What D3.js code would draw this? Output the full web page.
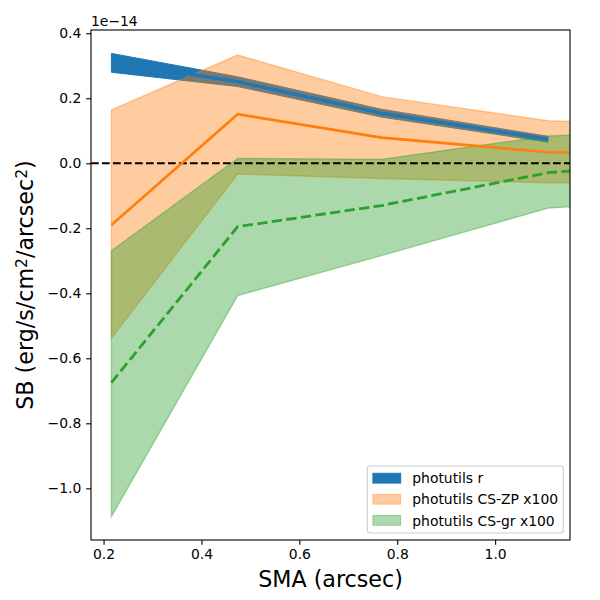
<!DOCTYPE html>
<html>
<head>
<meta charset="utf-8">
<script src="https://cdn.jsdelivr.net/npm/d3@7"></script>
<style>
  body { margin: 0; background: #fff; }
  text { font-family: "DejaVu Sans", sans-serif; }
</style>
</head>
<body>
<script>
// data (units of 1e-14)
const smaR = [0.216, 0.474, 0.768, 1.108];
const rMid = [0.312, 0.251, 0.154, 0.074];
const rLo = [0.280, 0.236, 0.142, 0.065];
const rHi = [0.338, 0.266, 0.166, 0.083];

const smaCS = [0.216, 0.474, 0.768, 1.108, 1.16];
const zpMid = [-0.190, 0.151, 0.079, 0.034, 0.033];
const zpLo = [-0.538, -0.033, -0.047, -0.060, -0.060];
const zpHi = [0.164, 0.333, 0.205, 0.131, 0.128];

const grMid = [-0.675, -0.195, -0.130, -0.029, -0.023];
const grLo = [-1.087, -0.407, -0.284, -0.138, -0.133];
const grHi = [-0.269, 0.015, 0.012, 0.084, 0.087];

const xTicks = [0.2, 0.4, 0.6, 0.8, 1.0];
const yTicks = [0.4, 0.2, 0.0, -0.2, -0.4, -0.6, -0.8, -1.0];
const legendLabels = ['photutils r', 'photutils CS-ZP x100', 'photutils CS-gr x100'];

const width = 600, height = 600;
const margin = { top: 30, right: 30, bottom: 60, left: 91 };

// scales
const x = d3.scaleLinear().domain([0.1743, 1.153]).range([margin.left, width - margin.right]);
const y = d3.scaleLinear().domain([-1.159, 0.410]).range([height - margin.bottom, margin.top]);

const svg = d3.select('body').append('svg')
  .attr('width', width).attr('height', height);

svg.append('defs').append('clipPath').attr('id', 'plotclip')
  .append('rect')
  .attr('x', x.range()[0]).attr('y', y.range()[1])
  .attr('width', x.range()[1] - x.range()[0])
  .attr('height', y.range()[0] - y.range()[1]);

const plot = svg.append('g').attr('clip-path', 'url(#plotclip)');

const toRows = (xs, lo, hi, mid) => xs.map((v, i) => ({ x: v, lo: lo[i], hi: hi[i], mid: mid[i] }));
const rRows = toRows(smaR, rLo, rHi, rMid);
const zpRows = toRows(smaCS, zpLo, zpHi, zpMid);
const grRows = toRows(smaCS, grLo, grHi, grMid);

const band = d3.area().x(d => x(d.x)).y0(d => y(d.lo)).y1(d => y(d.hi));
const line = d3.line().x(d => x(d.x)).y(d => y(d.mid));

// bands
plot.append('path').datum(rRows).attr('d', band)
  .attr('fill', '#1f77b4').attr('stroke', '#1f77b4').attr('stroke-width', 1);
plot.append('path').datum(zpRows).attr('d', band)
  .attr('fill', '#ff7f0e').attr('fill-opacity', 0.4)
  .attr('stroke', '#ff7f0e').attr('stroke-opacity', 0.4).attr('stroke-width', 1.4);
plot.append('path').datum(grRows).attr('d', band)
  .attr('fill', '#2ca02c').attr('fill-opacity', 0.4)
  .attr('stroke', '#2ca02c').attr('stroke-opacity', 0.4).attr('stroke-width', 1.4);

// zero line
plot.append('line')
  .attr('x1', x.range()[0]).attr('x2', x.range()[1])
  .attr('y1', y(0)).attr('y2', y(0))
  .attr('stroke', '#000').attr('stroke-width', 2.1).attr('stroke-dasharray', '7.7,3.3');

// lines
plot.append('path').datum(zpRows).attr('d', line)
  .attr('fill', 'none').attr('stroke', '#ff7f0e').attr('stroke-width', 2.6);
plot.append('path').datum(grRows).attr('d', line)
  .attr('fill', 'none').attr('stroke', '#2ca02c').attr('stroke-width', 2.8)
  .attr('stroke-dasharray', '10.3,4.4');
plot.append('path').datum(rRows).attr('d', line)
  .attr('fill', 'none').attr('stroke', '#1f77b4').attr('stroke-width', 3.5);

// axes
const xAxis = g => g.attr('transform', `translate(0, ${y.range()[0]})`)
  .call(d3.axisBottom(x).tickValues(xTicks).tickFormat(d3.format('.1f'))
    .tickSize(4.86).tickPadding(4.4).tickSizeOuter(0))
  .call(g => g.select('.domain').remove());
const yAxis = g => g.attr('transform', `translate(${x.range()[0]}, 0)`)
  .call(d3.axisLeft(y).tickValues(yTicks).tickFormat(d3.format('.1f'))
    .tickSize(4.86).tickPadding(4.86).tickSizeOuter(0))
  .call(g => g.select('.domain').remove());

svg.append('g').call(xAxis);
svg.append('g').call(yAxis);
svg.selectAll('.tick text')
  .attr('font-family', '"DejaVu Sans", sans-serif')
  .attr('font-size', '13.9px').attr('fill', '#000');
svg.selectAll('.tick line').attr('stroke', '#000').attr('stroke-width', 1.1);

// frame
svg.append('rect')
  .attr('x', x.range()[0]).attr('y', y.range()[1])
  .attr('width', x.range()[1] - x.range()[0])
  .attr('height', y.range()[0] - y.range()[1])
  .attr('fill', 'none').attr('stroke', '#000').attr('stroke-width', 1.1);

// offset text
svg.append('text').attr('x', 91).attr('y', 25.7)
  .attr('font-size', '13.9px').text('1e\u221214');

// axis labels
svg.append('text')
  .attr('x', (x.range()[0] + x.range()[1]) / 2).attr('y', 587)
  .attr('text-anchor', 'middle').attr('font-size', '22.2px')
  .text('SMA (arcsec)');

const yl = svg.append('text')
  .attr('transform', `translate(33, ${(y.range()[0] + y.range()[1]) / 2}) rotate(-90)`)
  .attr('text-anchor', 'middle').attr('font-size', '22.2px');
yl.append('tspan').text('SB (erg/s/cm');
yl.append('tspan').attr('baseline-shift', '40%').attr('font-size', '15.5px').text('2');
yl.append('tspan').text('/arcsec');
yl.append('tspan').attr('baseline-shift', '40%').attr('font-size', '15.5px').text('2');
yl.append('tspan').text(')');

// legend
const legend = svg.append('g').attr('transform', 'translate(367.3, 466)');
legend.append('rect')
  .attr('width', 196).attr('height', 67).attr('rx', 3)
  .attr('fill', '#fff').attr('fill-opacity', 0.8)
  .attr('stroke', '#cccccc').attr('stroke-width', 1.1);

const swatches = [
  { fill: '#1f77b4', op: 1 },
  { fill: '#ff7f0e', op: 0.4 },
  { fill: '#2ca02c', op: 0.4 }
];
legendLabels.forEach((lab, i) => {
  const cy = 12.3 + i * 21.1;
  legend.append('rect')
    .attr('x', 5.6).attr('y', cy - 5).attr('width', 27.8).attr('height', 9.8)
    .attr('fill', swatches[i].fill).attr('fill-opacity', swatches[i].op)
    .attr('stroke', swatches[i].fill).attr('stroke-opacity', swatches[i].op)
    .attr('stroke-width', 1);
  legend.append('text')
    .attr('x', 45).attr('y', cy + 5)
    .attr('font-size', '13.9px').text(lab);
});
</script>
</body>
</html>
